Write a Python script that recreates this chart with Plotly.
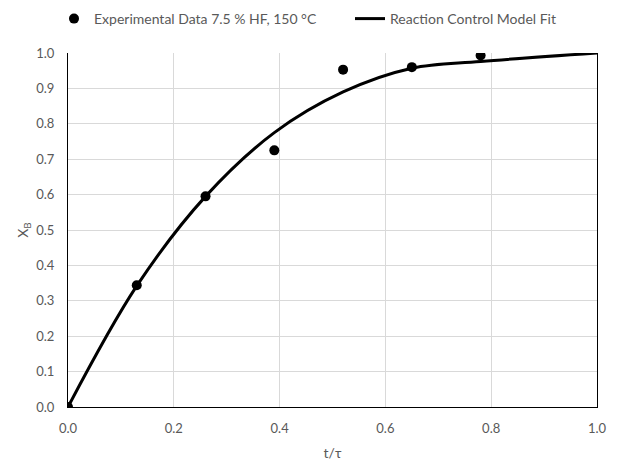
import plotly.graph_objects as go

# Experimental data
exp_x = [0.0, 0.13, 0.26, 0.39, 0.52, 0.65, 0.78]
exp_y = [0.0, 0.344, 0.595, 0.725, 0.953, 0.960, 0.993]

# Reaction control model fit
fit_x = [0.0, 0.13, 0.26, 0.39, 0.52, 0.65, 0.78, 1.0]
fit_y = [0.0, 0.342, 0.595, 0.775, 0.890, 0.957, 0.976, 1.0]

x_ticks = [0.0, 0.2, 0.4, 0.6, 0.8, 1.0]
y_ticks = [0.0, 0.1, 0.2, 0.3, 0.4, 0.5, 0.6, 0.7, 0.8, 0.9, 1.0]

FONT = "Lato"
GRAY = "#595959"

fig = go.Figure()
fig.add_trace(go.Scatter(
    x=exp_x, y=exp_y, mode="markers", name="Experimental Data 7.5 % HF, 150 °C",
    marker=dict(color="black", size=10), legend="legend", showlegend=True,
))
fig.add_trace(go.Scatter(
    x=fit_x, y=fit_y, mode="lines", name="Reaction Control Model Fit",
    line=dict(color="black", width=3, shape="spline", smoothing=1.0),
    legend="legend2", showlegend=True,
))

legend_common = dict(
    orientation="h", xanchor="left",
    yref="container", xref="container", y=1 - 19 / 461, yanchor="middle",
    font=dict(family=FONT, color=GRAY, size=14),
    bgcolor="rgba(0,0,0,0)",
)

fig.update_layout(
    width=617, height=461,
    showlegend=True,
    margin=dict(l=68, r=20, t=53, b=54, autoexpand=False),
    paper_bgcolor="white", plot_bgcolor="white",
    font=dict(family=FONT, color=GRAY, size=13),
    legend=dict(x=54 / 617, **legend_common),
    legend2=dict(x=350 / 617, **legend_common),
    xaxis=dict(
        range=[0, 1.0], tickvals=x_ticks, ticktext=[f"{v:.1f}" for v in x_ticks],
        showgrid=True, gridcolor="#d9d9d9", gridwidth=1,
        showline=True, linecolor="black", linewidth=1, mirror=False,
        zeroline=False, ticks="", ticklabelstandoff=9,
        title=dict(text="t/τ", font=dict(family=FONT, color=GRAY, size=14), standoff=14),
    ),
    yaxis=dict(
        range=[0, 1.0], tickvals=y_ticks, ticktext=[f"{v:.1f}" for v in y_ticks],
        showgrid=True, gridcolor="#d9d9d9", gridwidth=1,
        showline=True, linecolor="black", linewidth=1, mirror=True,
        zeroline=False, ticks="", ticklabelstandoff=10,
        title=dict(text="X<sub>B</sub>", font=dict(family=FONT, color=GRAY, size=14), standoff=4),
    ),
)

fig.write_html("out.html")
